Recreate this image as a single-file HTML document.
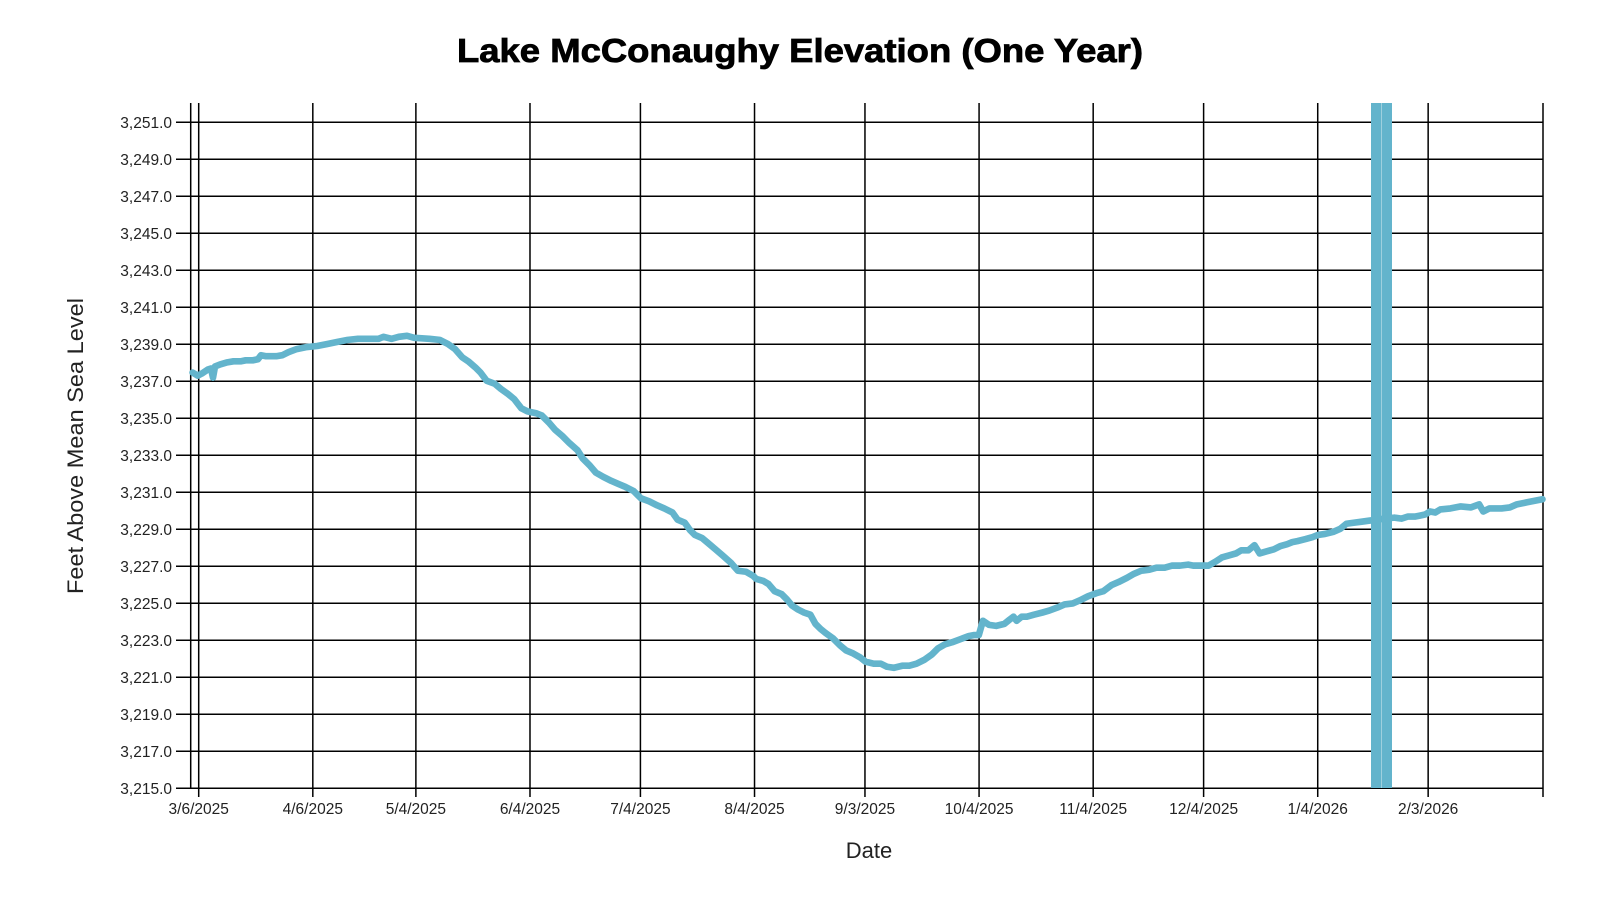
<!DOCTYPE html>
<html><head><style>html,body{margin:0;padding:0;background:#fff}svg{display:block}</style></head>
<body>
<svg width="1600" height="900" xmlns="http://www.w3.org/2000/svg" font-family="Liberation Sans, Arial, sans-serif">
<text x="800" y="62" text-anchor="middle" font-size="33" font-weight="bold" stroke="#000" stroke-width="0.8" textLength="686" lengthAdjust="spacingAndGlyphs">Lake McConaughy Elevation (One Year)</text>
<g id="grid" stroke="#000" stroke-width="1.5" fill="none"></g>
<g id="labels" font-size="15.5" fill="#222"></g>
<text x="869" y="858" text-anchor="middle" font-size="22" fill="#222">Date</text>
<text transform="translate(83,446) rotate(-90)" text-anchor="middle" font-size="22" fill="#222" textLength="296" lengthAdjust="spacingAndGlyphs">Feet Above Mean Sea Level</text>
<g fill="#63b4cc">
<rect x="1371" y="103" width="10" height="685"/>
<rect x="1382" y="103" width="10" height="685"/>
</g>
<line x1="1381.5" y1="103" x2="1381.5" y2="788" stroke="#9ed0de" stroke-width="1"/>
<g transform="matrix(1.0211,0,0,1.0215,0.604,0.742)">
<polyline fill="none" stroke="#63b4cc" stroke-width="6.5" stroke-linejoin="round" stroke-linecap="round" points="188,364 193,367 197,365 203,361 206,360 208,369 210,358 215,356 222,354 228,353 235,353 240,352 247,352 252,351 255,347 260,348 270,348 276,347 282,344 290,341 300,339 310,338 320,336 330,334 340,332 350,331 360,331 370,331 375,329 383,331 390,329 398,328 405,330 420,331 430,332 438,336 445,341 452,349 458,353 465,359 470,364 476,372 484,375 490,380 497,385 503,390 510,399 516,402 525,404 530,406 537,413 543,420 550,426 557,433 565,440 570,448 577,455 583,462 590,466 598,470 605,473 612,476 620,480 627,487 635,490 643,494 650,497 658,501 663,508 670,511 675,518 680,523 687,526 693,531 700,537 707,543 715,550 722,558 730,559 737,563 740,566 747,568 752,571 758,578 765,581 770,586 775,592 781,596 787,599 793,601 798,610 803,615 808,619 815,624 822,631 828,636 835,639 842,643 847,647 855,649 862,649 868,652 875,653 883,651 890,651 897,649 905,645 912,640 918,634 925,630 932,628 940,625 948,622 953,621 958,621 962,607 968,611 975,612 983,610 988,606 992,603 995,607 1000,603 1005,603 1012,601 1020,599 1027,597 1035,594 1042,591 1050,590 1057,587 1065,583 1073,580 1080,578 1088,572 1095,569 1103,565 1110,561 1117,558 1125,557 1132,555 1140,555 1147,553 1155,553 1163,552 1168,553 1175,553 1183,553 1190,549 1196,545 1203,543 1210,541 1215,538 1222,538 1228,533 1233,541 1240,539 1247,537 1253,534 1260,532 1265,530 1270,529 1278,527 1285,525 1290,523 1297,522 1305,520 1312,517 1318,512 1325,511 1333,510 1340,509 1348,508 1355,507 1365,506 1372,507 1378,505 1385,505 1390,504 1395,503 1400,500 1405,501 1410,498 1420,497 1430,495 1440,496 1448,493 1452,500 1458,497 1470,497 1478,496 1485,493 1495,491 1505,489 1510,488"/>
</g>
<script>
var ns="http://www.w3.org/2000/svg",g=document.getElementById('grid'),L=document.getElementById('labels');
function ln(x1,y1,x2,y2){var e=document.createElementNS(ns,'line');e.setAttribute('x1',x1);e.setAttribute('y1',y1);e.setAttribute('x2',x2);e.setAttribute('y2',y2);g.appendChild(e);}
function tx(x,y,s,a){var e=document.createElementNS(ns,'text');e.setAttribute('x',x);e.setAttribute('y',y);e.setAttribute('text-anchor',a);e.textContent=s;L.appendChild(e);}
for(var v=3215;v<=3251;v+=2){var y=122.3+(3251-v)*18.5;ln(176,y,1543,y);tx(172,y+5.5,(v+'').replace(/^(\d)/,'$1,')+'.0','end');}
ln(190.7,103,190.7,788);ln(1543,103,1543,797);
var d=[[0,'3/6/2025'],[31,'4/6/2025'],[59,'5/4/2025'],[90,'6/4/2025'],[120,'7/4/2025'],[151,'8/4/2025'],[181,'9/3/2025'],[212,'10/4/2025'],[243,'11/4/2025'],[273,'12/4/2025'],[304,'1/4/2026'],[334,'2/3/2026']];
d.forEach(function(p){var x=198.7+p[0]*3.681;ln(x,103,x,797);tx(x,814,p[1],'middle');});
</script>
</svg>
</body></html>
